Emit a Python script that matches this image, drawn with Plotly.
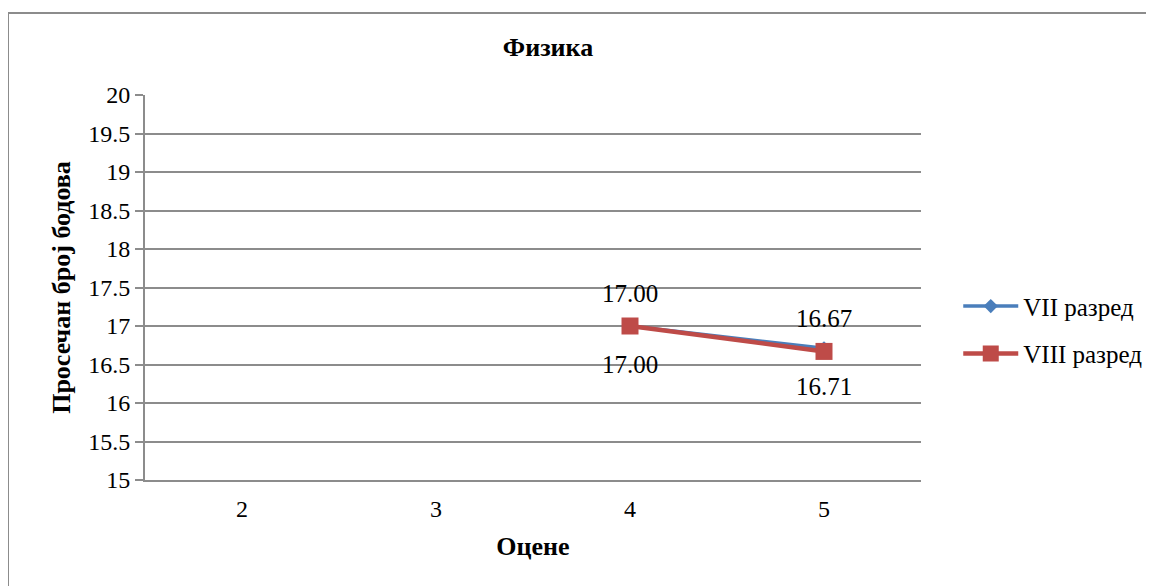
import plotly.graph_objects as go

# podaci
ocene = ["2", "3", "4", "5"]
vii_razred = [None, None, 17.00, 16.71]
viii_razred = [None, None, 17.00, 16.67]

font_serif = "Liberation Serif"

fig = go.Figure()

fig.add_trace(go.Scatter(
    x=ocene, y=vii_razred, name="VII разред", legendgroup="vii",
    mode="lines+markers",
    line=dict(color="#4A7EBB", width=3.5),
    marker=dict(symbol="diamond", size=11, color="#4A7EBB"),
    cliponaxis=False,
))
fig.add_trace(go.Scatter(
    x=ocene, y=viii_razred, name="VIII разред", legendgroup="viii",
    mode="lines+markers",
    line=dict(color="#BE4B48", width=4.5),
    marker=dict(symbol="square", size=17, color="#BE4B48"),
    cliponaxis=False,
))

# oznake vrijednosti: VIII iznad, VII ispod tačke (x = indeks kategorije)
for i, y in enumerate(viii_razred):
    if y is not None:
        fig.add_annotation(x=i, y=y, text=f"{y:.2f}", showarrow=False,
                           yshift=33, font=dict(size=25, family=font_serif))
for i, y in enumerate(vii_razred):
    if y is not None:
        fig.add_annotation(x=i, y=y, text=f"{y:.2f}", showarrow=False,
                           yshift=-38, font=dict(size=25, family=font_serif))

# okvir grafikona
fig.add_shape(type="rect", xref="paper", yref="paper",
              x0=-(145 - 8) / 776, y0=-0.4, x1=1.4, y1=(480 - 13) / 385,
              line=dict(color="#8C8C8C", width=2), layer="below")

fig.update_layout(
    width=1154, height=586,
    margin=dict(l=137, r=241, t=87, b=114),
    paper_bgcolor="white", plot_bgcolor="white",
    font=dict(family=font_serif, size=24, color="#000000"),
    title=dict(text="<b>Физика</b>", x=540 / 1154, xref="container", xanchor="center",
               y=1 - 39 / 586, yanchor="middle",
               font=dict(size=26, family=font_serif)),
    legend=dict(x=1.048, y=0.39, xanchor="left", yanchor="middle",
                font=dict(size=25, family=font_serif),
                itemwidth=55, tracegroupgap=12),
    showlegend=True,
)

fig.update_xaxes(
    type="category", range=[-0.5, 3.5],
    showgrid=False, showline=True, linecolor="#8C8C8C", linewidth=2,
    ticks="", tickfont=dict(size=24), ticklabelstandoff=6,
    title=dict(text="<b>Оцене</b>", font=dict(size=26), standoff=16),
)
fig.update_yaxes(
    range=[15, 20], dtick=0.5,
    showgrid=True, gridcolor="#8C8C8C", gridwidth=2,
    showline=True, linecolor="#8C8C8C", linewidth=2,
    ticks="outside", ticklen=8, tickcolor="#8C8C8C", tickwidth=2,
    tickfont=dict(size=24),
    title=dict(text="<b>Просечан број бодова</b>", font=dict(size=26), standoff=10),
    zeroline=False,
)

fig.write_html("out.html")
